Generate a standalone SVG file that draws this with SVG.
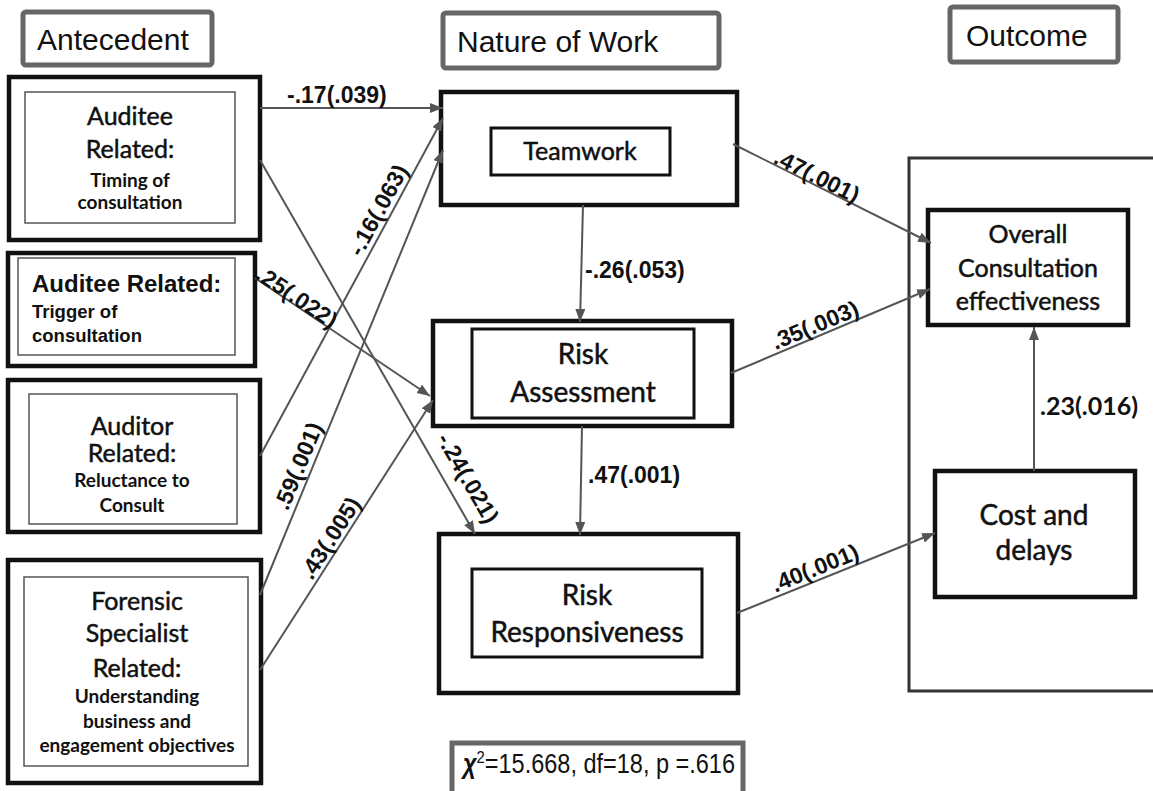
<svg xmlns="http://www.w3.org/2000/svg" width="1153" height="791" viewBox="0 0 1153 791">
<style>
.hdr{fill:#fff;stroke:#666;stroke-width:5}
.hdrt{font-family:"Liberation Sans",Arial,sans-serif;font-size:30px;fill:#111}
.outer{fill:#fff;stroke:#111;stroke-width:4.5}
.thin{fill:none;stroke:#555;stroke-width:1.5}
.inner{fill:#fff;stroke:#111;stroke-width:3}
.big{font-family:Lato,"Open Sans",sans-serif;font-size:25px;fill:#111;stroke:#111;stroke-width:0.5;text-anchor:middle}
.sm{font-family:Lato,"Open Sans",sans-serif;font-size:19px;font-weight:bold;fill:#111;text-anchor:middle}
.risk{font-family:Lato,"Open Sans",sans-serif;font-size:28px;fill:#111;stroke:#111;stroke-width:0.5;text-anchor:middle}
.ar{font-family:"Liberation Sans",Arial,sans-serif;font-weight:bold;fill:#111}
.lbl{font-family:"Liberation Sans",Arial,sans-serif;font-size:23px;font-weight:bold;fill:#111}
.lblc{font-family:"Liberation Sans",Arial,sans-serif;font-size:23px;font-weight:bold;fill:#111;text-anchor:middle}
.edge{stroke:#555;stroke-width:2;fill:none;marker-end:url(#ah)}
</style>
<defs>
<marker id="ah" markerUnits="userSpaceOnUse" markerWidth="14" markerHeight="12" refX="13" refY="5" orient="auto">
<path d="M0,0 L13,5 L0,10 z" fill="#555"/>
</marker>
</defs>
<rect width="1153" height="791" fill="#fff"/>

<g id="hdr-antecedent"><rect class="hdr" x="23" y="12" width="189" height="53" rx="3"/><text class="hdrt" x="37" y="50">Antecedent</text></g>
<g id="hdr-nature"><rect class="hdr" x="443" y="13" width="276" height="55" rx="3"/><text class="hdrt" x="457" y="52">Nature of Work</text></g>
<g id="hdr-outcome"><rect class="hdr" x="950" y="7" width="168" height="55" rx="3"/><text class="hdrt" x="966" y="46">Outcome</text></g>

<g id="outcome-container"><rect x="909" y="158" width="260" height="533" fill="none" stroke="#333" stroke-width="3"/></g>

<g id="n-timing">
<rect class="outer" x="9" y="77" width="251" height="163"/>
<rect class="thin" x="25" y="92" width="210" height="131"/>
<text class="big" x="130" y="125">Auditee</text>
<text class="big" x="130" y="158">Related:</text>
<text class="sm" x="130" y="187">Timing of</text>
<text class="sm" x="130" y="209">consultation</text>
</g>
<g id="n-trigger">
<rect class="outer" x="8" y="253" width="247" height="113"/>
<rect class="thin" x="18" y="258" width="217" height="97" stroke-width="2"/>
<text class="ar" x="32" y="292" font-size="24">Auditee Related:</text>
<text class="ar" x="32" y="318" font-size="18.5">Trigger of</text>
<text class="ar" x="32" y="342" font-size="18.5">consultation</text>
</g>
<g id="n-auditor">
<rect class="outer" x="8" y="380" width="252" height="152"/>
<rect class="thin" x="29" y="394" width="208" height="130"/>
<text class="big" x="132" y="435">Auditor</text>
<text class="big" x="132" y="462">Related:</text>
<text class="sm" x="132" y="487">Reluctance to</text>
<text class="sm" x="132" y="512">Consult</text>
</g>
<g id="n-forensic">
<rect class="outer" x="8" y="560" width="253" height="223"/>
<rect class="thin" x="24" y="577" width="224" height="189"/>
<text class="big" x="137" y="610">Forensic</text>
<text class="big" x="137" y="642">Specialist</text>
<text class="big" x="137" y="677">Related:</text>
<text class="sm" x="137" y="703">Understanding</text>
<text class="sm" x="137" y="728">business and</text>
<text class="sm" x="137" y="752">engagement objectives</text>
</g>

<g id="n-teamwork">
<rect class="outer" x="441" y="92" width="296" height="113"/>
<rect class="inner" x="491" y="128" width="179" height="47"/>
<text class="big" x="580" y="160" font-size="24">Teamwork</text>
</g>
<g id="n-assessment">
<rect class="outer" x="433" y="321" width="299" height="105"/>
<rect class="inner" x="472" y="329" width="222" height="89"/>
<text class="risk" x="583" y="364">Risk</text>
<text class="risk" x="583" y="402">Assessment</text>
</g>
<g id="n-responsiveness">
<rect class="outer" x="439" y="534" width="299" height="159"/>
<rect class="inner" x="472" y="569" width="230" height="88"/>
<text class="risk" x="587" y="605">Risk</text>
<text class="risk" x="587" y="642">Responsiveness</text>
</g>

<g id="n-overall">
<rect class="outer" x="928" y="210" width="200" height="115"/>
<text class="big" x="1028" y="243">Overall</text>
<text class="big" x="1028" y="277">Consultation</text>
<text class="big" x="1028" y="310">effectiveness</text>
</g>
<g id="n-cost">
<rect class="outer" x="935" y="471" width="200" height="126"/>
<text class="risk" x="1034" y="525">Cost and</text>
<text class="risk" x="1034" y="560">delays</text>
</g>

<g id="fit">
<rect x="452" y="743" width="291" height="70" fill="#fff" stroke="#666" stroke-width="5"/>
<text x="463" y="773" font-family="Liberation Sans, Arial, sans-serif" font-size="27" fill="#111" textLength="272" lengthAdjust="spacingAndGlyphs"><tspan font-weight="bold" font-style="italic">χ</tspan><tspan font-size="17" dy="-10">2</tspan><tspan dy="10">=15.668, df=18, p =.616</tspan></text>
</g>

<g id="connectors">
<line class="edge" x1="260" y1="108" x2="443" y2="108"/>
<line class="edge" x1="260" y1="160" x2="475" y2="534"/>
<line class="edge" x1="260" y1="456" x2="443" y2="118"/>
<line class="edge" x1="260" y1="595" x2="443" y2="150"/>
<line class="edge" x1="255" y1="278" x2="430" y2="396"/>
<line class="edge" x1="260" y1="670" x2="433" y2="400"/>
<line class="edge" x1="583" y1="205" x2="580" y2="322"/>
<line class="edge" x1="582" y1="426" x2="580" y2="535"/>
<line class="edge" x1="733" y1="144" x2="931" y2="243"/>
<line class="edge" x1="731" y1="373" x2="930" y2="289"/>
<line class="edge" x1="737" y1="613" x2="935" y2="533"/>
<line class="edge" x1="1034" y1="471" x2="1034" y2="327"/>

<text class="lbl" x="287" y="103">-.17(.039)</text>
<text class="lblc" transform="translate(468,478) rotate(60)" y="8">-.24(.021)</text>
<text class="lblc" transform="translate(378,210) rotate(-61.5)" y="8">-.16(.063)</text>
<text class="lblc" transform="translate(298,466) rotate(-67.6)" y="8">.59(.001)</text>
<text class="lblc" transform="translate(297,297) rotate(33.7)" y="8">.25(.022)</text>
<text class="lblc" transform="translate(330,538) rotate(-57.4)" y="8">.43(.005)</text>
<text class="lbl" x="585" y="278">-.26(.053)</text>
<text class="lbl" x="588" y="483">.47(.001)</text>
<text class="lblc" transform="translate(817,176) rotate(26.5)" y="8">.47(.001)</text>
<text class="lblc" transform="translate(815,325) rotate(-22.6)" y="8">.35(.003)</text>
<text class="lblc" transform="translate(815,568) rotate(-22.1)" y="8">.40(.001)</text>
<text x="1040" y="415" font-family="Lato, Open Sans, sans-serif" font-size="25" font-weight="bold" fill="#111">.23(.016)</text>
</g>
</svg>
